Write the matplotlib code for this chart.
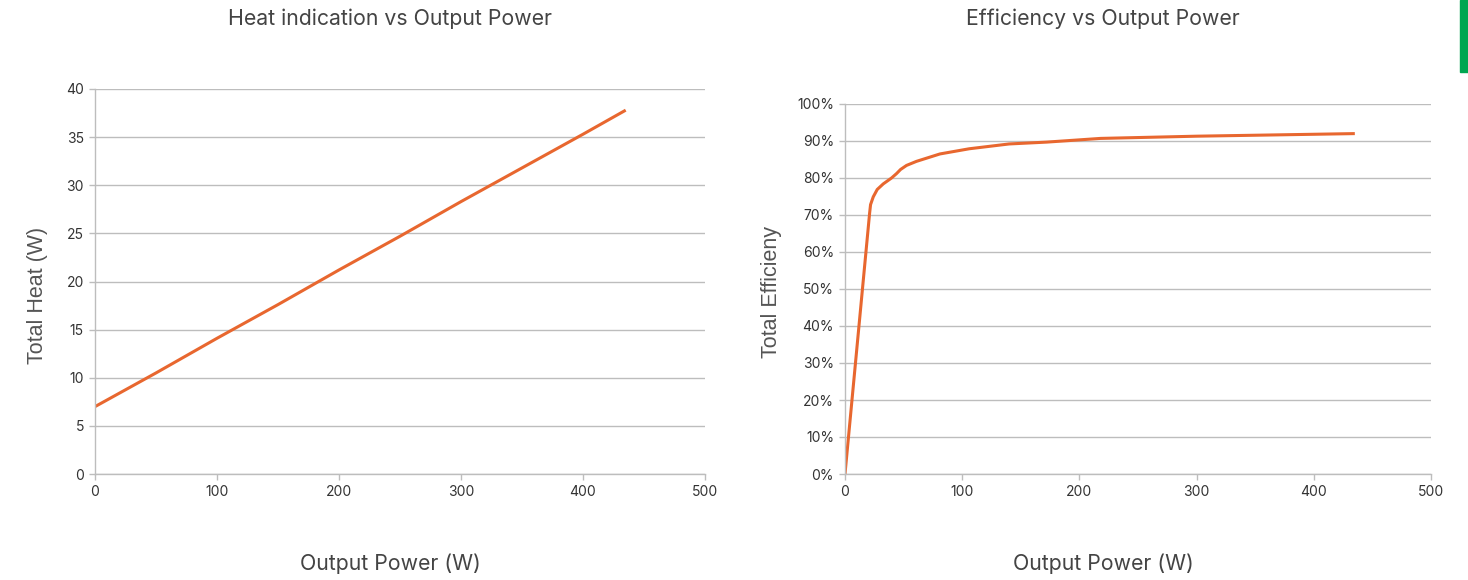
import matplotlib
matplotlib.use("Agg")
import matplotlib.pyplot as plt
from matplotlib.patches import Rectangle

# Data
heat_power = [0, 50, 100, 150, 200, 250, 300, 350, 400, 435]
heat_total = [7.0, 10.5, 14.1, 17.6, 21.2, 24.7, 28.3, 31.8, 35.3, 37.8]

eff_power = [0, 21, 21.8, 24.1, 27.5, 32.6, 39.7, 44, 47.4, 52.5, 61, 81, 106, 140, 172, 218, 300, 435]
eff_total = [0.0, 70.5, 72.8, 74.9, 76.9, 78.4, 80.0, 81.2, 82.3, 83.4, 84.5, 86.5, 87.9, 89.2, 89.7, 90.7, 91.3, 92.0]

x_ticks = [0, 100, 200, 300, 400, 500]
heat_ticks = [0, 5, 10, 15, 20, 25, 30, 35, 40]
eff_ticks = [0, 10, 20, 30, 40, 50, 60, 70, 80, 90, 100]

titles = ["Heat indication vs Output Power", "Efficiency vs Output Power"]
xlabel = "Output Power (W)"
ylabels = ["Total Heat (W)", "Total Efficieny"]

W, H = 1468, 580
fig = plt.figure(figsize=(W / 100, H / 100), dpi=100)

line_color = "#E8672F"
grid_color = "#BDBDBD"
tick_color = "#333333"


def px_ax(x0, x1, y0, y1):
    return fig.add_axes([x0 / W, 1 - y1 / H, (x1 - x0) / W, (y1 - y0) / H])


def style(ax, yticks, ylabels_txt):
    for s in ["top", "right"]:
        ax.spines[s].set_visible(False)
    for s in ["left", "bottom"]:
        ax.spines[s].set_color(grid_color)
        ax.spines[s].set_linewidth(1.0)
    ax.set_xlim(0, 500)
    ax.set_xticks(x_ticks)
    ax.set_yticks(yticks)
    ax.set_ylim(yticks[0], yticks[-1])
    ax.yaxis.grid(True, color=grid_color, linewidth=1.0)
    ax.set_axisbelow(True)
    ax.tick_params(axis="both", colors=grid_color, labelcolor=tick_color,
                   labelsize=10, length=4, width=1, pad=4)
    ax.set_yticklabels(ylabels_txt, family="Inter")
    ax.set_xticklabels([str(t) for t in x_ticks], family="Inter")


ax1 = px_ax(95, 705, 89, 474)
ax1.plot(heat_power, heat_total, color=line_color, linewidth=2.2, solid_capstyle="butt")
style(ax1, heat_ticks, [str(t) for t in heat_ticks])

ax2 = px_ax(845, 1431, 104, 474)
ax2.plot(eff_power, eff_total, color=line_color, linewidth=2.2, solid_capstyle="butt")
style(ax2, eff_ticks, [f"{t}%" for t in eff_ticks])

title_color = "#444444"
for cx, t in zip([390, 1103], titles):
    fig.text(cx / W, 1 - 19 / H, t, ha="center", va="center", fontsize=15.3,
             family="Inter", color=title_color)
    fig.text(cx / W, 1 - 564 / H, xlabel, ha="center", va="center", fontsize=15.3,
             family="Inter", color=title_color)

fig.text(38 / W, 1 - 295 / H, ylabels[0], ha="center", va="center", rotation=90,
         fontsize=15.5, family="Liberation Sans", color="#555555")
fig.text(772 / W, 1 - 292 / H, ylabels[1], ha="center", va="center", rotation=90,
         fontsize=15.5, family="Liberation Sans", color="#555555")

fig.patches.append(Rectangle((1460 / W, 1 - 72 / H), 8 / W, 72 / H,
                             transform=fig.transFigure, color="#00A651", zorder=5))

fig.savefig("out.png", dpi=100)
